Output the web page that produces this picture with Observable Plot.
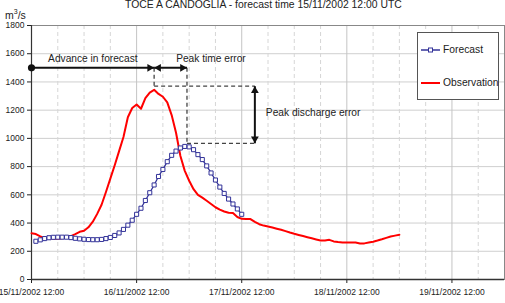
<!DOCTYPE html>
<html><head><meta charset="utf-8">
<script src="https://cdn.jsdelivr.net/npm/d3@7"></script>
<script src="https://cdn.jsdelivr.net/npm/@observablehq/plot@0.6"></script>
<style>
body{margin:0;background:#fff;font-family:"Liberation Sans",Arial,sans-serif;}
#wrap{position:relative;width:505px;height:303px;overflow:hidden;}
#title{position:absolute;left:125px;top:0px;font-size:10.4px;line-height:10px;color:#222;white-space:nowrap;}
#unit{position:absolute;left:5px;top:9px;font-size:10.5px;line-height:12px;color:#222;white-space:nowrap;}
#unit sup{font-size:7px;vertical-align:5px;line-height:0;}
#legend{position:absolute;left:417px;top:32px;width:80px;height:66px;border:1px solid #555;background:#fff;font-size:10.3px;color:#222;}
.row{position:absolute;left:2px;height:12px;line-height:12px;white-space:nowrap;}
.row svg{position:absolute;left:0;top:0;}
.row span{position:absolute;left:23px;top:0;}
</style></head>
<body>
<div id="wrap">
  <div id="chart"></div>
  <div id="title">TOCE A CANDOGLIA - forecast time 15/11/2002 12:00 UTC</div>
  <div id="unit">m<sup>3</sup>/s</div>
  <div id="legend">
    <div class="row" style="top:11px"><svg width="22" height="12"><line x1="1" x2="20" y1="6" y2="6" stroke="#333399" stroke-width="1.5"/><rect x="8.5" y="4" width="4" height="4" fill="#fff" stroke="#333399" stroke-width="1"/></svg><span>Forecast</span></div>
    <div class="row" style="top:44px"><svg width="22" height="12"><line x1="1" x2="20" y1="6" y2="6" stroke="#ff0000" stroke-width="2"/></svg><span>Observation</span></div>
  </div>
</div>
<script>
// ---- data ----
const startTime = new Date(Date.UTC(2002, 10, 15, 12));
const endTime = new Date(Date.UTC(2002, 10, 20, 0));
// hourly observed discharge (m3/s) from 15/11/2002 12:00
const observation = [328,322,305,295,292,288,289,292,298,308,322,338,345,
  370,410,465,530,620,715,810,910,1010,1150,
  1215,1240,1210,1285,1325,1344,1315,1295,1255,
  1165,1040,875,770,700,640,600,580,558,535,512,495,482,473,472,443,430,
  428,428,408,392,382,375,368,360,352,343,333,324,316,308,300,292,284,276,277,281,270,266,263,262,262,262,255,256,262,268,276,285,295,305,311,317];
// hourly forecast discharge (m3/s) from 15/11/2002 13:00 (lead 1h..48h)
const forecastFirstLead = 1;
const forecast = [271,281,290,296,299,300,300,300,297,292,
  288,285,283,282,282,284,290,298,312,330,
  355,385,420,462,505,560,615,670,730,780,
  835,880,910,932,943,940,920,885,850,805,
  755,705,655,610,570,535,500,462];
const yTicks = [0,200,400,600,800,1000,1200,1400,1600,1800];
const xTicks = [15,16,17,18,19].map(d => new Date(Date.UTC(2002, 10, d, 12)));
// annotation values
const arrowLevel = 1500;
const obsPeakTime = new Date(Date.UTC(2002, 10, 16, 16));
const fcPeakTime = new Date(Date.UTC(2002, 10, 16, 23, 30));
const errorTime = new Date(Date.UTC(2002, 10, 17, 15));
const obsPeakLevel = 1370;
const fcPeakLevel = 965;

const H = 3600e3;
const obsData = observation.map((v, i) => ({t: new Date(+startTime + i * H), v}));
const fcData = forecast.map((v, i) => ({t: new Date(+startTime + (i + forecastFirstLead) * H), v}));
const minorGrid = d3.utcHour.every(6).range(startTime, endTime).filter(d => d.getUTCHours() !== 12);

const tri = 2.9, tip = 2 * Math.sqrt(Math.PI * tri * tri / (3 * Math.sqrt(3)));
const black = "#111";
const dash = {stroke: "#444", strokeWidth: 1.3, strokeDasharray: "4,3"};

const chart = Plot.plot({
  width: 505, height: 303,
  marginLeft: 31, marginRight: 1, marginTop: 25, marginBottom: 24,
  style: {fontFamily: "Liberation Sans, Arial, sans-serif", fontSize: "8.5px", color: "#222", background: "transparent"},
  x: {type: "utc", domain: [startTime, endTime], ticks: xTicks, tickFormat: d3.utcFormat("%d/%m/%Y %H:%M"), tickSize: 4, tickPadding: 5, label: null},
  y: {domain: [0, 1800], ticks: yTicks, tickFormat: d3.format("d"), tickSize: 4, tickPadding: 3, label: null},
  marks: [
    Plot.ruleY(yTicks.slice(1), {stroke: "#cfcfcf", strokeWidth: 1}),
    Plot.ruleX(minorGrid, {stroke: "#d6d6d6", strokeWidth: 1, strokeDasharray: "4,3"}),
    Plot.ruleX(xTicks.slice(1), {stroke: "#c4c4c4", strokeWidth: 1}),
    Plot.frame({stroke: "#888"}),
    Plot.ruleX([startTime], {stroke: "#333", strokeWidth: 1.2}),
    Plot.ruleY([0], {stroke: "#333", strokeWidth: 1.5}),
    Plot.line(obsData, {x: "t", y: "v", stroke: "#ff0000", strokeWidth: 2}),
    Plot.line(fcData, {x: "t", y: "v", stroke: "#333399", strokeWidth: 1.3}),
    Plot.dot(fcData, {x: "t", y: "v", symbol: "square", r: 2.3, fill: "#fff", stroke: "#333399", strokeWidth: 1}),
    // dashed guides
    Plot.link([{x1: obsPeakTime, x2: obsPeakTime, y1: arrowLevel, y2: obsPeakLevel},
               {x1: obsPeakTime, x2: errorTime, y1: obsPeakLevel, y2: obsPeakLevel},
               {x1: fcPeakTime, x2: fcPeakTime, y1: arrowLevel, y2: fcPeakLevel},
               {x1: fcPeakTime, x2: errorTime, y1: fcPeakLevel, y2: fcPeakLevel}],
      {x1: "x1", x2: "x2", y1: "y1", y2: "y2", ...dash}),
    // arrows
    Plot.link([{x1: startTime, x2: obsPeakTime, y1: arrowLevel, y2: arrowLevel},
               {x1: obsPeakTime, x2: fcPeakTime, y1: arrowLevel, y2: arrowLevel},
               {x1: errorTime, x2: errorTime, y1: obsPeakLevel, y2: fcPeakLevel}],
      {x1: "x1", x2: "x2", y1: "y1", y2: "y2", stroke: black, strokeWidth: 2}),
    Plot.dot([{t: startTime, v: arrowLevel}], {x: "t", y: "v", r: 3.6, fill: black}),
    Plot.dot([{t: obsPeakTime}, {t: fcPeakTime}], {x: "t", y: () => arrowLevel, symbol: "triangle", r: tri, rotate: 90, fill: black, dx: -tip}),
    Plot.dot([{t: obsPeakTime}], {x: "t", y: () => arrowLevel, symbol: "triangle", r: tri, rotate: -90, fill: black, dx: tip}),
    Plot.dot([{t: errorTime}], {x: "t", y: () => obsPeakLevel, symbol: "triangle", r: tri, rotate: 0, fill: black, dy: tip}),
    Plot.dot([{t: errorTime}], {x: "t", y: () => fcPeakLevel, symbol: "triangle", r: tri, rotate: 180, fill: black, dy: -tip}),
    // labels
    Plot.text(["Advance in forecast"], {x: () => new Date((+startTime + +obsPeakTime) / 2), y: () => arrowLevel, text: d => d, dy: -9, fontSize: 10.2, fill: "#222"}),
    Plot.text(["Peak time error"], {x: () => obsPeakTime, y: () => arrowLevel, text: d => d, dx: 22, dy: -9, textAnchor: "start", fontSize: 10.2, fill: "#222"}),
    Plot.text(["Peak discharge error"], {x: () => errorTime, y: () => (obsPeakLevel + fcPeakLevel) / 2, text: d => d, dx: 11, dy: -2.5, textAnchor: "start", fontSize: 10.2, fill: "#222"})
  ]
});
document.getElementById("chart").appendChild(chart);
</script>
</body></html>
